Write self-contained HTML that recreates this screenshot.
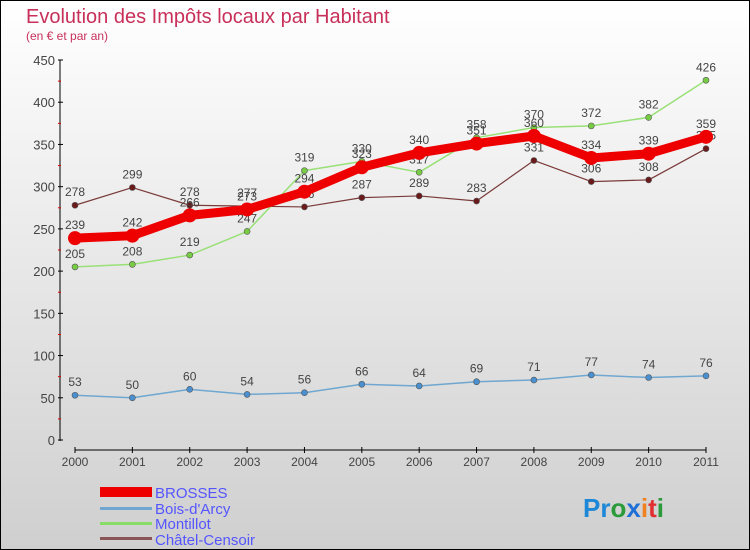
<!DOCTYPE html>
<html><head><meta charset="utf-8"><style>
body{margin:0}
#c{width:750px;height:550px;position:relative;box-sizing:border-box;border:1px solid #000;background:linear-gradient(#fff,#cfcfcf);font-family:"Liberation Sans",sans-serif;overflow:hidden}
</style></head><body>
<div id="c">
<svg id="s" width="750" height="550" style="position:absolute;left:-1px;top:-1px">
<text x="26" y="23" font-size="20" fill="#c8305a">Evolution des Impôts locaux par Habitant</text>
<text x="26" y="40" font-size="12" fill="#c8305a">(en € et par an)</text>
<g id="g"></g>
<g>
<rect x="100" y="487" width="52" height="10" fill="#e00"/>
<text x="155" y="498" font-size="15" fill="#5555ff">BROSSES</text>
<rect x="100" y="507" width="52" height="3" fill="#6fa7d0"/>
<text x="155" y="514" font-size="15" fill="#5555ff">Bois-d'Arcy</text>
<rect x="100" y="522" width="52" height="3" fill="#88dd66"/>
<text x="155" y="529" font-size="15" fill="#5555ff">Montillot</text>
<rect x="100" y="537" width="52" height="3" fill="#8a5555"/>
<text x="155" y="545" font-size="15" fill="#5555ff">Châtel-Censoir</text>
</g>
<text x="583" y="517" font-size="26" font-weight="bold"><tspan fill="#1e88d8">Pr</tspan><tspan fill="#2a9a3a">o</tspan><tspan fill="#1e6fd8">x</tspan><tspan fill="#f08020">i</tspan><tspan fill="#e03030">t</tspan><tspan fill="#2a9a3a">i</tspan></text>
</svg>
</div>
<script>
const years=["2000","2001","2002","2003","2004","2005","2006","2007","2008","2009","2010","2011"];
const yTicks=[0,50,100,150,200,250,300,350,400,450];
const brosses=[239,242,266,273,294,323,340,351,360,334,339,359];
const boisDarcy=[53,50,60,54,56,66,64,69,71,77,74,76];
const montillot=[205,208,219,247,319,330,317,358,370,372,382,426];
const chatel=[278,299,278,277,276,287,289,283,331,306,308,345];
const NS="http://www.w3.org/2000/svg";
const g=document.getElementById('g');
const X=i=>75+i*(706-75)/11;
const Y=v=>440-v*(380/450);
function el(t,a){const e=document.createElementNS(NS,t);for(const k in a)e.setAttribute(k,a[k]);g.appendChild(e);return e;}
let ax=el('line',{x1:60,y1:60,x2:60,y2:441,stroke:'#000'});


let bx=el('line',{x1:75,y1:450,x2:706,y2:450,stroke:'#000'});


yTicks.forEach(v=>{
 const t=el('line',{x1:58,y1:Y(v),x2:63,y2:Y(v),stroke:'#000'});
 
 
 const l=el('text',{x:55,y:Y(v)+5,'font-size':13,fill:'#444','text-anchor':'end'});l.textContent=v;
 
 
 if(v<450){const m=el('line',{x1:58,y1:Y(v+25),x2:61,y2:Y(v+25),stroke:'#d00'});
 
 }
});
years.forEach((y,i)=>{
 const t=el('line',{x1:X(i),y1:447,x2:X(i),y2:453,stroke:'#000'});
 
 
 const l=el('text',{x:X(i),y:466,'font-size':12,fill:'#444','text-anchor':'middle'});l.textContent=y;
 
 
});
function series(d,color,w,r,dot,name){
 const p=el('polyline',{points:d.map((v,i)=>X(i)+','+Y(v)).join(' '),fill:'none',stroke:color,'stroke-width':w,'stroke-linejoin':'round'});
 
 
 d.forEach((v,i)=>{
  const c=el('circle',{cx:X(i),cy:Y(v),r:r,fill:dot,stroke:'#555','stroke-width':r>5?0:0.6});
  
  
  const l=el('text',{x:X(i),y:Y(v)-9,'font-size':12,fill:'#444','text-anchor':'middle'});l.textContent=v;
  
  
 });
}
series(boisDarcy,'#6fa7d0',1.5,3,'#4a90d0','bois-darcy');
series(chatel,'#7a3a3a',1.2,3,'#6a1a1a','chatel-censoir');
series(montillot,'#99e077',1.5,3,'#77cc44','montillot');
series(brosses,'#e00',9,7,'#e00','brosses');
</script>
</body></html>
